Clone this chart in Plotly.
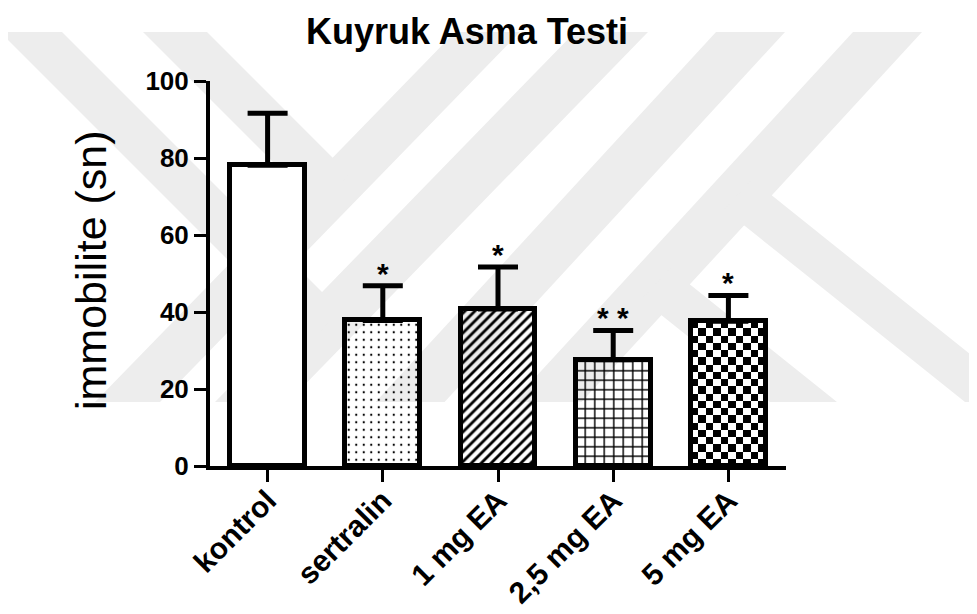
import plotly.graph_objects as go
import numpy as np

# ---------------- data ----------------
categories = ["kontrol", "sertralin", "1 mg EA", "2,5 mg EA", "5 mg EA"]
means = [78.1, 37.8, 40.8, 27.6, 37.6]
sems = [13.5, 9.0, 10.9, 7.6, 6.7]
significance = ["", "*", "*", "* *", "*"]
y_ticks = [0, 20, 40, 60, 80, 100]
title_text = "Kuyruk Asma Testi"
y_title = "immobilite (sn)"

# ---------------- style ----------------
FONT = "Liberation Sans, Arial, Helvetica, sans-serif"
OFF = 8                      # page body margin of the html page
W, H = 977 - OFF, 614 - OFF
# plot area in screen pixels: x 210..786, y 81..466
SX0, SX1, SY0, SY1 = 210, 786, 81, 466
ML, MT = SX0 - OFF, SY0 - OFF
MR, MB = W - (SX1 - OFF), H - (SY1 - OFF)
PW, PH = SX1 - SX0, SY1 - SY0
BAR_W = 0.65
x_pos = list(range(len(categories)))


def px2paper(px, py):
    """screen pixel -> paper coordinates"""
    return (px - SX0) / PW, (SY1 - py) / PH


fig = go.Figure()

# checkerboard fill of the last bar (drawn under the bar outline)
ci = 4
ncols, nrows = 10, 20
xe = np.linspace(x_pos[ci] - BAR_W / 2, x_pos[ci] + BAR_W / 2, ncols + 1)
ye = np.linspace(0, means[ci], nrows + 1)
z = [[(i + j) % 2 for j in range(ncols)] for i in range(nrows)]
fig.add_trace(go.Heatmap(x=xe, y=ye, z=z, zmin=0, zmax=1,
                         colorscale=[[0, "white"], [1, "black"]],
                         showscale=False, hoverinfo="skip"))

fig.add_trace(go.Bar(
    x=x_pos, y=means, width=BAR_W,
    marker=dict(
        color=["white", "black", "black", "black", "rgba(0,0,0,0)"],
        line=dict(color="black", width=5),
        pattern=dict(shape=["", ".", "/", "+", ""], fgcolor="black",
                     bgcolor="white", size=[8, 7.5, 7, 9.5, 8],
                     solidity=[0.3, 0.07, 0.4, 0.28, 0.3], fillmode="replace"),
    ),
    error_y=dict(type="data", symmetric=False, array=sems,
                 arrayminus=[0] * len(sems), color="black",
                 thickness=5, width=20),
    hoverinfo="skip", showlegend=False,
))

# significance asterisks
for xi, m, s, sig in zip(x_pos, means, sems, significance):
    if sig:
        fig.add_annotation(x=xi, y=m + s, text=sig, showarrow=False,
                           yanchor="bottom", yshift=-6,
                           font=dict(family=FONT, size=30, color="black",
                                     weight="bold"))

# watermark bands (light grey, behind everything) in screen pixels
Y0, Y1 = 32, 402


def band(top_l, top_r, slope, y_end=Y1):
    return [(top_l, Y0), (top_r, Y0),
            (top_r + slope * (y_end - Y0), y_end),
            (top_l + slope * (y_end - Y0), y_end)]


def band_to_center(a0, a1, sa, c, sc):
    pts = [(a0, Y0), (a1, Y0)]
    for a in (a1, a0):
        t = (c - a) / (sa - sc)
        pts.append((a + sa * t, Y0 + t))
    return pts


def band_from_bottom(b0, b1, sb, c, sc):
    pts = [(b0, Y1), (b1, Y1)]
    for b in (b1, b0):
        y = (c - sc * Y0 - b + sb * Y1) / (sb - sc)
        pts.append((b + sb * (y - Y1), y))
    return pts


polys = []
s_left = -0.973
polys.append(band(455, 520, s_left))
polys.append(band(575, 648, s_left))
polys.append(band_to_center(0, 62, 1.0, 611.5, s_left))
polys.append(band_to_center(143, 207, 1.0, 487.5, s_left))
s_k = -0.92
polys.append(band(716, 785, s_k))
polys.append(band(853, 922, s_k))
polys.append(band_from_bottom(965, 1030, 1.25, 887.5, s_k))
polys.append(band_from_bottom(770, 837, 1.25, 887.5, s_k))

for pts in polys:
    path = "M " + " L ".join("%.4f,%.4f" % px2paper(x, y) for x, y in pts) + " Z"
    fig.add_shape(type="path", path=path, xref="paper", yref="paper",
                  fillcolor="#ededed", line=dict(width=0), layer="below")

# titles
tx, ty = px2paper(467, OFF + 1)
fig.add_annotation(x=tx, y=ty, xref="paper", yref="paper", text=title_text,
                   showarrow=False, xanchor="center", yanchor="top",
                   font=dict(family=FONT, size=36, color="black", weight="bold"))
yx, yy = px2paper(91, 270)
fig.add_annotation(x=yx, y=yy, xref="paper", yref="paper", text=y_title,
                   showarrow=False, textangle=-90, xanchor="center",
                   yanchor="middle",
                   font=dict(family=FONT, size=43, color="black"))

fig.update_xaxes(range=[-0.5, 4.5], tickvals=x_pos, ticktext=categories,
                 tickangle=-45, ticks="outside", ticklen=12, tickwidth=3,
                 tickcolor="black", showline=True, linewidth=4,
                 linecolor="black", showgrid=False, zeroline=False,
                 automargin=False, ticklabelstandoff=-11,
                 tickfont=dict(family=FONT, size=30, color="black",
                               weight="bold"))
fig.update_yaxes(range=[0, 100], tickvals=y_ticks, ticks="outside",
                 ticklen=12, tickwidth=3, tickcolor="black", showline=True,
                 linewidth=4, linecolor="black", showgrid=False,
                 zeroline=False, automargin=False,
                 tickfont=dict(family=FONT, size=26, color="black",
                               weight="bold"))

fig.update_layout(width=W, height=H, margin=dict(l=ML, r=MR, t=MT, b=MB),
                  paper_bgcolor="white", plot_bgcolor="rgba(0,0,0,0)",
                  showlegend=False, bargap=0)

fig.write_html("out.html")
